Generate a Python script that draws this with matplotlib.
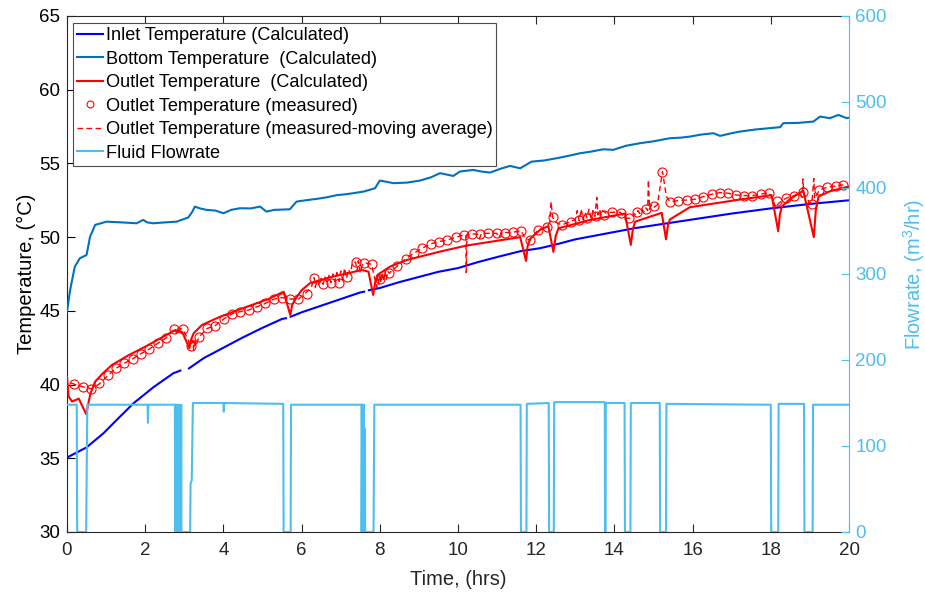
import numpy as np
import matplotlib
matplotlib.use("Agg")
import matplotlib.pyplot as plt
from matplotlib.lines import Line2D

plt.rcParams['font.family'] = ['Liberation Sans', 'DejaVu Sans']
plt.rcParams['mathtext.fontset'] = 'custom'
plt.rcParams['mathtext.rm'] = 'Liberation Sans'

nan = float('nan')

# ---------------- data (time [hrs], value) ----------------
# Inlet temperature (calculated), degC
inlet = [(0.0, 35.05), (0.5, 35.74), (0.93, 36.69), (1.27, 37.6), (1.7, 38.73), (2.21, 39.82),
         (2.72, 40.77), (2.9, 40.95), (nan, nan), (3.12, 41.1), (3.5, 41.8), (4.0, 42.5),
         (4.5, 43.2), (5.0, 43.85), (5.5, 44.45), (5.6, 44.5), (nan, nan), (5.72, 44.6),
         (6.0, 44.9), (6.5, 45.35), (7.0, 45.8), (7.5, 46.25), (7.6, 46.3), (nan, nan),
         (7.72, 46.4), (8.0, 46.55), (8.5, 46.95), (9.0, 47.3), (9.5, 47.65), (10.0, 47.9),
         (10.5, 48.3), (11.0, 48.65), (11.6, 49.05), (12.1, 49.25), (12.5, 49.5), (13.0, 49.85),
         (14.0, 50.35), (14.5, 50.6), (15.0, 50.8), (16.0, 51.2), (17.0, 51.6), (18.0, 51.95),
         (19.0, 52.25), (20.0, 52.5)]

# Bottom temperature (calculated), degC
bottom = [(0.0, 44.95), (0.08, 46.42), (0.2, 48.0), (0.33, 48.57), (0.5, 48.79), (0.59, 50.03),
          (0.72, 50.83), (1.01, 51.05), (1.4, 51.0), (1.78, 50.94), (1.95, 51.17), (2.05, 51.0),
          (2.21, 50.94), (2.5, 51.0), (2.8, 51.05), (3.1, 51.33), (3.2, 51.7), (3.27, 52.07),
          (3.4, 51.95), (3.57, 51.85), (3.8, 51.8), (4.0, 51.62), (4.2, 51.85), (4.42, 51.96),
          (4.7, 51.95), (4.94, 52.07), (5.1, 51.73), (5.3, 51.85), (5.7, 51.89), (5.87, 52.41),
          (6.1, 52.5), (6.4, 52.6), (6.64, 52.7), (6.9, 52.85), (7.1, 52.9), (7.32, 52.98),
          (7.6, 53.1), (7.88, 53.32), (8.0, 53.84), (8.35, 53.66), (8.7, 53.7), (9.03, 53.84),
          (9.3, 54.05), (9.54, 54.34), (9.88, 54.15), (10.05, 54.45), (10.39, 54.56),
          (10.6, 54.45), (10.82, 54.38), (11.1, 54.65), (11.33, 54.83), (11.59, 54.67),
          (11.88, 55.12), (12.2, 55.2), (12.52, 55.35), (12.8, 55.5), (13.12, 55.69),
          (13.4, 55.8), (13.72, 55.96), (13.97, 55.92), (14.3, 56.2), (14.65, 56.37),
          (15.0, 56.5), (15.42, 56.71), (15.7, 56.75), (15.93, 56.82), (16.2, 56.95),
          (16.53, 57.05), (16.7, 56.87), (17.0, 57.05), (17.21, 57.16), (17.6, 57.3),
          (18.0, 57.4), (18.24, 57.46), (18.32, 57.73), (18.7, 57.75), (19.09, 57.84),
          (19.26, 58.18), (19.51, 58.07), (19.73, 58.29), (19.94, 58.07), (20.0, 58.1)]

# Outlet temperature (calculated), degC
outlet = [(0.0, 40.54), (0.04, 39.2), (0.13, 38.85), (0.22, 38.95), (0.3, 39.05), (0.38, 38.6),
          (0.49, 38.0), (0.6, 39.4), (0.72, 40.2), (0.9, 40.72), (1.15, 41.33), (1.58, 42.0),
          (2.0, 42.57), (2.43, 43.2), (2.77, 43.7), (2.95, 43.55), (3.13, 42.46), (3.18, 43.1),
          (3.24, 43.48), (3.45, 44.04), (3.88, 44.56), (4.56, 45.24), (5.16, 45.81),
          (5.54, 46.3), (5.71, 44.72), (5.76, 45.4), (5.84, 45.8), (6.0, 46.4), (6.21, 46.87),
          (6.73, 47.28), (7.54, 47.77), (7.71, 47.66), (7.83, 46.08), (7.88, 46.9),
          (7.94, 47.44), (8.26, 48.0), (8.69, 48.45), (9.54, 49.02), (10.22, 49.43),
          (11.59, 50.0), (11.74, 48.38), (11.78, 49.4), (11.85, 49.9), (12.1, 50.5),
          (12.31, 50.75), (12.44, 49.0), (12.5, 50.1), (12.57, 50.6), (13.38, 51.17),
          (14.27, 51.6), (14.42, 49.47), (14.47, 50.5), (14.53, 51.05), (15.21, 51.65),
          (15.32, 49.85), (15.37, 50.8), (15.42, 51.2), (15.93, 52.03), (17.21, 52.55),
          (18.02, 52.85), (18.19, 50.4), (18.23, 51.5), (18.28, 52.07), (18.5, 52.6),
          (18.83, 53.15), (19.1, 50.0), (19.15, 51.8), (19.22, 52.75), (19.5, 53.1),
          (19.94, 53.4), (20.0, 53.42)]

# Outlet temperature (measured), degC
measured = [(0.19, 40.04), (0.40, 39.81), (0.62, 39.68), (0.83, 40.09), (1.04, 40.65),
            (1.25, 41.15), (1.47, 41.44), (1.68, 41.74), (1.89, 42.08), (2.10, 42.39),
            (2.32, 42.80), (2.53, 43.14), (2.74, 43.77), (2.96, 43.75), (3.17, 42.62),
            (3.37, 43.21), (3.58, 43.82), (3.79, 44.00), (4.01, 44.45), (4.22, 44.79),
            (4.43, 44.95), (4.65, 45.06), (4.86, 45.28), (5.07, 45.51), (5.29, 45.79),
            (5.50, 45.90), (5.71, 45.80), (5.92, 45.80), (6.13, 46.15), (6.32, 47.26),
            (6.54, 46.79), (6.75, 46.86), (6.96, 46.91), (7.17, 47.30), (7.38, 48.33),
            (7.59, 48.27), (7.79, 48.16), (8.00, 47.14), (8.24, 47.55), (8.45, 48.05),
            (8.66, 48.52), (8.87, 48.91), (9.09, 49.25), (9.30, 49.54), (9.51, 49.70),
            (9.73, 49.81), (9.94, 49.99), (10.15, 50.15), (10.35, 50.22), (10.56, 50.22),
            (10.78, 50.26), (10.99, 50.26), (11.20, 50.31), (11.40, 50.33), (11.61, 50.44),
            (11.83, 49.78), (12.05, 50.49), (12.27, 50.71), (12.44, 51.37), (12.65, 50.80),
            (12.88, 51.05), (13.09, 51.17), (13.31, 51.32), (13.52, 51.44), (13.73, 51.51),
            (13.93, 51.69), (14.16, 51.67), (14.37, 51.28), (14.59, 51.73), (14.81, 51.89),
            (15.01, 52.12), (15.23, 54.45), (15.42, 52.41), (15.63, 52.48), (15.85, 52.52),
            (16.06, 52.57), (16.27, 52.75), (16.49, 52.91), (16.70, 53.02), (16.91, 52.98),
            (17.11, 52.86), (17.31, 52.82), (17.53, 52.82), (17.74, 52.91), (17.95, 53.02),
            (18.17, 52.48), (18.39, 52.64), (18.60, 52.82), (18.82, 53.09), (19.05, 52.25),
            (19.24, 53.20), (19.45, 53.39), (19.66, 53.47), (19.85, 53.54)]

# Outlet temperature (measured - moving average), degC
moving_avg = [(0.1, 40.1), (0.4, 39.85), (0.62, 39.7), (0.83, 40.05), (1.04, 40.6), (1.25, 41.1),
              (1.47, 41.45), (1.68, 41.75), (1.89, 42.1), (2.1, 42.4), (2.32, 42.8), (2.53, 43.15),
              (2.74, 43.77), (2.8, 43.5), (2.83, 43.9), (2.86, 43.4), (2.9, 43.8), (2.96, 43.75),
              (3.05, 43.3), (3.17, 42.62), (3.22, 43.0), (3.24, 42.3), (3.27, 43.1), (3.3, 42.6),
              (3.37, 43.21), (3.58, 43.8), (3.79, 44.0), (4.01, 44.45), (4.22, 44.8), (4.43, 44.95),
              (4.65, 45.06), (4.86, 45.28), (5.07, 45.5), (5.29, 45.8), (5.5, 45.9), (5.71, 45.8),
              (5.92, 45.8), (6.1, 46.2), (6.25, 46.6), (6.32, 47.25), (6.35, 46.6), (6.4, 47.1),
              (6.45, 46.7), (6.5, 47.2), (6.55, 46.8), (6.6, 47.3), (6.65, 46.9), (6.7, 47.4),
              (6.75, 46.9), (6.8, 47.5), (6.85, 47.0), (6.9, 47.6), (6.96, 47.0), (7.0, 47.7),
              (7.05, 47.1), (7.1, 47.9), (7.15, 47.2), (7.2, 47.8), (7.25, 47.5), (7.3, 48.3),
              (7.38, 48.3), (7.42, 47.7), (7.45, 48.4), (7.5, 47.6), (7.55, 48.1), (7.6, 48.27),
              (7.79, 48.16), (7.92, 46.6), (7.95, 47.4), (7.98, 46.8), (8.0, 47.5), (8.03, 46.9),
              (8.06, 47.6), (8.1, 47.0), (8.13, 47.7), (8.17, 47.1), (8.2, 47.7), (8.24, 47.55),
              (8.3, 47.7), (8.45, 48.05), (8.66, 48.52), (8.87, 48.91), (9.09, 49.25),
              (9.3, 49.54), (9.51, 49.7), (9.73, 49.81), (9.94, 49.99), (10.15, 50.15),
              (10.2, 50.15), (10.21, 47.6), (10.23, 50.2), (10.35, 50.22), (10.5, 50.2),
              (10.55, 49.9), (10.6, 50.25), (10.78, 50.26), (10.99, 50.26), (11.05, 49.95),
              (11.1, 50.3), (11.2, 50.31), (11.4, 50.33), (11.61, 50.44), (11.7, 50.0),
              (11.83, 49.78), (12.05, 50.49), (12.27, 50.71), (12.35, 51.0), (12.38, 52.4),
              (12.42, 51.35), (12.5, 51.0), (12.65, 50.83), (12.88, 51.05), (13.0, 51.2),
              (13.05, 51.8), (13.1, 51.1), (13.15, 51.9), (13.2, 51.2), (13.25, 51.7),
              (13.3, 51.3), (13.35, 51.9), (13.4, 51.3), (13.45, 51.8), (13.5, 51.4),
              (13.55, 52.7), (13.58, 51.5), (13.62, 51.9), (13.66, 51.5), (13.7, 51.8),
              (13.8, 51.6), (13.93, 51.69), (14.16, 51.67), (14.25, 51.3), (14.37, 51.28),
              (14.45, 51.3), (14.5, 51.6), (14.55, 51.5), (14.6, 51.8), (14.65, 51.6),
              (14.7, 51.9), (14.75, 51.7), (14.8, 52.0), (14.85, 51.8), (14.87, 53.88),
              (14.9, 51.9), (14.95, 52.2), (15.0, 52.0), (15.1, 52.2), (15.23, 54.45),
              (15.33, 52.75), (15.42, 52.41), (15.63, 52.48), (15.85, 52.52), (16.06, 52.57),
              (16.27, 52.75), (16.49, 52.91), (16.7, 53.02), (16.91, 52.98), (17.11, 52.86),
              (17.31, 52.82), (17.53, 52.82), (17.74, 52.91), (17.95, 53.02), (18.05, 52.6),
              (18.12, 52.0), (18.2, 52.3), (18.39, 52.64), (18.6, 52.82), (18.75, 53.0),
              (18.8, 52.7), (18.82, 53.95), (18.85, 52.9), (18.95, 52.5), (19.05, 52.25),
              (19.1, 53.97), (19.12, 52.6), (19.24, 53.2), (19.45, 53.39), (19.66, 53.47),
              (19.85, 53.54)]

# Fluid flowrate, m3/hr
flow = [(0.0, 148), (0.25, 148), (0.26, 0), (0.49, 0), (0.52, 148), (2.06, 148), (2.07, 127),
        (2.08, 148), (2.76, 148), (2.765, 0), (2.78, 148), (2.785, 0), (2.80, 148), (2.805, 0),
        (2.82, 148), (2.825, 0), (2.84, 120), (2.845, 0), (2.86, 148), (2.865, 0), (2.89, 0),
        (2.915, 0), (2.92, 148), (2.925, 0), (3.15, 0), (3.16, 56), (3.19, 60), (3.22, 150),
        (4.0, 150), (4.01, 140), (4.02, 150), (5.53, 149), (5.54, 0), (5.72, 0), (5.73, 148),
        (7.53, 148), (7.535, 0), (7.55, 148), (7.555, 0), (7.57, 148), (7.575, 0), (7.59, 148),
        (7.595, 0), (7.62, 120), (7.625, 0), (7.65, 0), (7.84, 0), (7.86, 148), (11.6, 148),
        (11.61, 0), (11.75, 0), (11.76, 149), (12.32, 150), (12.33, 0), (12.45, 0),
        (12.46, 151), (13.755, 151), (13.76, 0), (13.775, 0), (13.78, 150), (14.26, 150),
        (14.27, 0), (14.41, 0), (14.42, 150), (15.16, 150), (15.17, 0), (15.32, 0),
        (15.33, 149), (18.0, 148), (18.01, 0), (18.19, 0), (18.2, 149), (18.85, 149),
        (18.86, 0), (19.07, 0), (19.08, 148), (20.0, 148)]


def xy(pairs):
    a = np.array(pairs, dtype=float)
    return a[:, 0], a[:, 1]


# ---------------- plot ----------------
c_inlet = '#0000FF'
c_bottom = '#0072BD'
c_red = '#FF0000'
c_flow = '#4DBEEE'
c_ax = '#262626'

fig = plt.figure(figsize=(9.25, 5.92), dpi=100)
ax = fig.add_axes([67/925, 1-532/592, (849-67)/925, (532-16)/592])
ax2 = ax.twinx()

ax.plot(*xy(inlet), color=c_inlet, lw=1.5, zorder=3)
ax.plot(*xy(bottom), color=c_bottom, lw=1.5, zorder=3)
ax.plot(*xy(outlet), color=c_red, lw=1.5, zorder=3)
ax.plot(*xy(measured), 'o', mfc='none', mec=c_red, ms=6.5, mew=0.8, zorder=4)
ax.plot(*xy(moving_avg), color=c_red, lw=1.0, ls='--', dashes=(4, 2.5), zorder=4)
ax2.plot(*xy(flow), color=c_flow, lw=1.5)

ax.set_xlim(0, 20)
ax.set_ylim(30, 65)
ax2.set_ylim(0, 600)
ax.set_xticks(np.arange(0, 21, 2))
ax.set_yticks(np.arange(30, 66, 5))
ax2.set_yticks(np.arange(0, 601, 100))

ax.tick_params(axis='both', direction='in', labelsize=13.5, colors=c_ax, length=5.5,
               width=0.8, top=True, right=False)
ax.tick_params(axis='x', pad=7)
ax.tick_params(axis='y', colors='black', pad=5)
ax2.tick_params(axis='y', direction='in', labelsize=13.5, colors=c_flow, length=5.5,
                width=0.8, pad=4.5)
for s in ['left', 'bottom', 'top']:
    ax.spines[s].set_color(c_ax)
    ax.spines[s].set_linewidth(0.8)
ax2.spines['right'].set_color(c_flow)
ax2.spines['right'].set_linewidth(0.8)
for s in ['left', 'bottom', 'top']:
    ax2.spines[s].set_visible(False)
ax.spines['right'].set_visible(False)

ax.set_xlabel('Time, (hrs)', fontsize=14.5, color=c_ax, labelpad=8)
ax.set_ylabel('Temperature, (\u00b0C)', fontsize=14.5, color='black', labelpad=2)
ax2.set_ylabel('Flowrate, (m$^3$/hr)', fontsize=14.5, color=c_flow, labelpad=10)

handles = [
    Line2D([], [], color=c_inlet, lw=1.5),
    Line2D([], [], color=c_bottom, lw=1.5),
    Line2D([], [], color=c_red, lw=1.5),
    Line2D([], [], ls='none', marker='o', mfc='none', mec=c_red, ms=5, mew=0.8),
    Line2D([], [], color=c_red, lw=1.0, ls='--', dashes=(4, 2.5)),
    Line2D([], [], color=c_flow, lw=1.5),
]
labels = ['Inlet Temperature (Calculated)',
          'Bottom Temperature  (Calculated)',
          'Outlet Temperature  (Calculated)',
          'Outlet Temperature (measured)',
          'Outlet Temperature (measured-moving average)',
          'Fluid Flowrate']
leg = ax2.legend(handles, labels, loc='upper left', bbox_to_anchor=(0.0077, 0.9864),
                 fontsize=13.1, frameon=True, fancybox=False, framealpha=1,
                 edgecolor='#4d4d4d', handlelength=1.45, handletextpad=0.12,
                 labelspacing=0.36, borderpad=0.22, borderaxespad=0.0)
leg.get_frame().set_linewidth(0.8)

fig.savefig('out.png', dpi=100)
